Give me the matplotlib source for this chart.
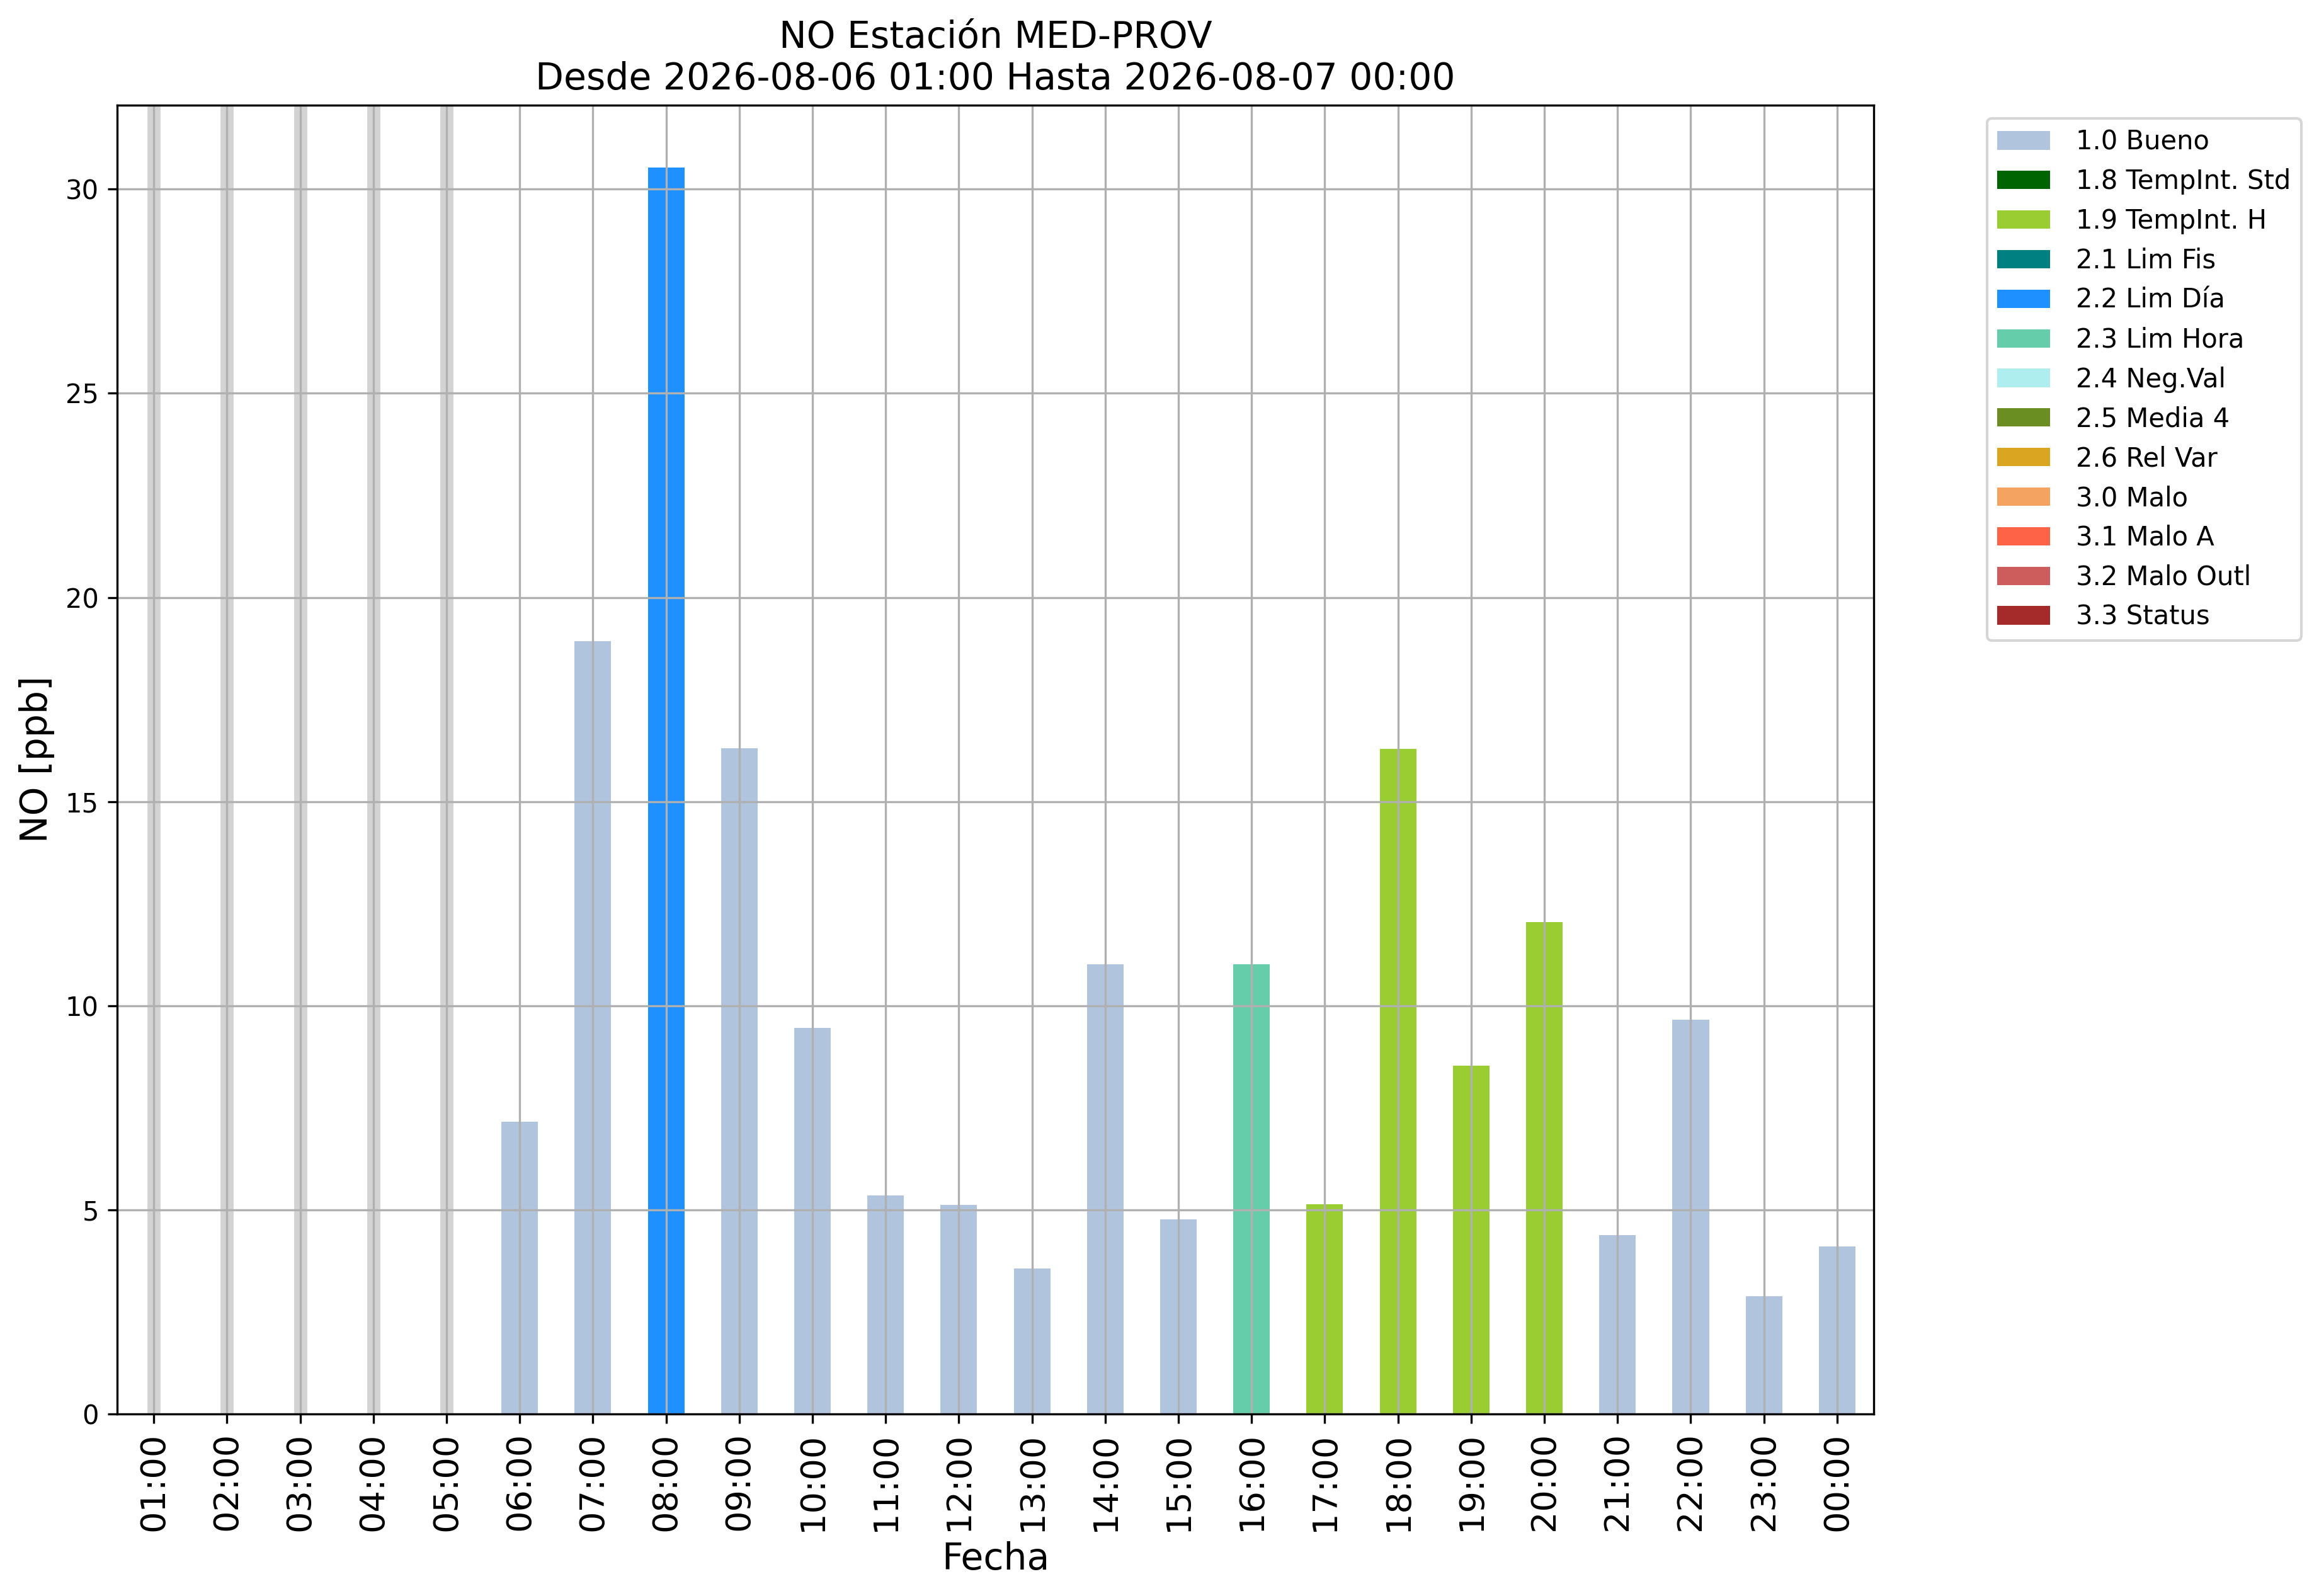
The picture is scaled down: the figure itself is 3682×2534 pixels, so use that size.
import numpy as np
import matplotlib
matplotlib.use("Agg")
import matplotlib.pyplot as plt
from matplotlib.patches import Patch

hours = ["01:00", "02:00", "03:00", "04:00", "05:00", "06:00", "07:00", "08:00",
         "09:00", "10:00", "11:00", "12:00", "13:00", "14:00", "15:00", "16:00",
         "17:00", "18:00", "19:00", "20:00", "21:00", "22:00", "23:00", "00:00"]
values = [np.nan, np.nan, np.nan, np.nan, np.nan, 7.16, 18.93, 30.53,
          16.31, 9.45, 5.36, 5.12, 3.56, 11.01, 4.77, 11.01,
          5.13, 16.29, 8.53, 12.05, 4.38, 9.65, 2.88, 4.10]
flags = [None, None, None, None, None, "1.0", "1.0", "2.2",
         "1.0", "1.0", "1.0", "1.0", "1.0", "1.0", "1.0", "2.3",
         "1.9", "1.9", "1.9", "1.9", "1.0", "1.0", "1.0", "1.0"]

legend_codes = ["1.0", "1.8", "1.9", "2.1", "2.2", "2.3", "2.4", "2.5", "2.6",
                "3.0", "3.1", "3.2", "3.3"]
legend_names = ["Bueno", "TempInt. Std", "TempInt. H", "Lim Fis", "Lim Día",
                "Lim Hora", "Neg.Val", "Media 4", "Rel Var", "Malo", "Malo A",
                "Malo Outl", "Status"]
legend_colors = ["lightsteelblue", "darkgreen", "yellowgreen", "teal", "dodgerblue",
                 "mediumaquamarine", "paleturquoise", "olivedrab", "goldenrod",
                 "sandybrown", "tomato", "indianred", "brown"]

title = "NO Estación MED-PROV\nDesde 2026-08-06 01:00 Hasta 2026-08-07 00:00"

color_map = dict(zip(legend_codes, legend_colors))

fig = plt.figure(figsize=(3682 / 300, 2534 / 300), dpi=300)
ax = fig.add_axes([186 / 3682, 1 - 2245 / 2534, (2975 - 186) / 3682, (2245 - 167) / 2534])

x = np.arange(len(hours))
vals = np.array(values, dtype=float)
bar_colors = [color_map[f] if f is not None else "white" for f in flags]
ax.bar(x, np.nan_to_num(vals), width=0.5, color=bar_colors)

for i, v in enumerate(vals):
    if np.isnan(v):
        ax.axvline(x[i], color="lightgray", linewidth=5, zorder=1)

ax.set_xlim(-0.5, len(hours) - 0.5)
ax.set_ylim(0, np.nanmax(vals) * 1.05)
ax.set_xticks(x)
ax.set_xticklabels(hours, rotation=90, fontsize=13)
ax.tick_params(axis="y", labelsize=10)
ax.grid(True, color="#b0b0b0", linewidth=0.8)

ax.set_title(title, fontsize=14)
ax.set_xlabel("Fecha", fontsize=14)
ax.set_ylabel("NO [ppb]", fontsize=14)

handles = [Patch(facecolor=c, label=f"{code} {name}")
           for code, name, c in zip(legend_codes, legend_names, legend_colors)]
ax.legend(handles=handles, loc="upper left", bbox_to_anchor=(1.057, 1), fontsize=10,
          handletextpad=1.0)

fig.savefig("out.png", dpi=300)
